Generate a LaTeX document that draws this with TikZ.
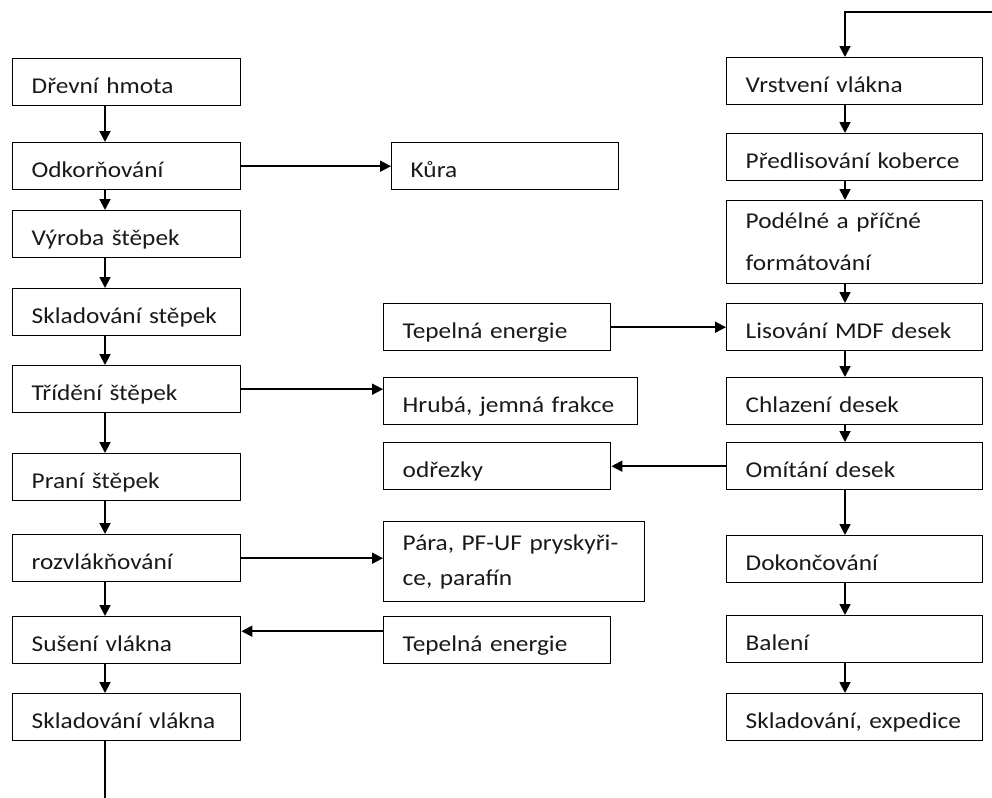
\documentclass[tikz,border=0pt]{standalone}
\usepackage{fontspec}
\setmainfont{Carlito}[FakeStretch=1.12]
\usetikzlibrary{arrows.meta,positioning}
\tikzset{
  box/.style={draw, line width=0.7pt, anchor=north west, align=left, inner xsep=9.5pt, inner ysep=0pt, minimum height=23.5pt, text=black!90},
  onebox/.style={box, text height=11pt, text depth=0pt},
  lbox/.style={onebox, text width=95pt},
  rbox/.style={onebox, text width=109pt},
  mbox/.style={onebox, text width=94.5pt},
  edge/.style={-{Triangle[length=5.5pt,width=5.5pt]}, line width=0.9pt}
}

\begin{document}
\begin{tikzpicture}[x=0.5pt, y=-0.5pt, font=\fontsize{11.3}{21}\selectfont]
\useasboundingbox (0,0) rectangle (992,798);
\coordinate (lx) at (105,0);
\coordinate (rx) at (845,0);
\coordinate (topin) at (992,12);
\coordinate (botout) at (105,798);

% left column
\node[lbox] (hmota) at (12,58) {Dřevní hmota};
\node[lbox] (odkor) at (12,142) {Odkorňování};
\node[lbox] (vyroba) at (12,210) {Výroba štěpek};
\node[lbox] (sklstep) at (12,288) {Skladování stěpek};
\node[lbox] (trideni) at (12,365) {Třídění štěpek};
\node[lbox] (prani) at (12,453) {Praní štěpek};
\node[lbox] (rozvl) at (12,534) {rozvlákňování};
\node[lbox] (suseni) at (12,616) {Sušení vlákna};
\node[lbox] (sklvl) at (12,693) {Skladování vlákna};

% middle column
\node[mbox] (kura) at (391,142) {Kůra};
\node[mbox] (tepla) at (383,303) {Tepelná energie};
\node[onebox, text width=108pt] (hruba) at (383,377) {Hrubá, jemná frakce};
\node[mbox] (odrezky) at (383,442) {odřezky};
\node[box, text width=111.5pt, minimum height=40pt, font=\fontsize{11.3}{17.5}\selectfont] (para) at (383,521) {Pára, PF-UF pryskyři-\\ce, parafín};
\node[mbox] (teplb) at (383,616) {Tepelná energie};

% right column
\node[rbox] (vrstveni) at (726,57) {Vrstvení vlákna};
\node[rbox] (predlis) at (726,133) {Předlisování koberce};
\node[box, text width=109pt, minimum height=41.5pt] (format) at (726,200) {Podélné a příčné\\formátování};
\node[rbox] (lisovani) at (726,303) {Lisování MDF desek};
\node[rbox] (chlazeni) at (726,377) {Chlazení desek};
\node[rbox] (omitani) at (726,442) {Omítání desek};
\node[rbox] (dokonc) at (726,535) {Dokončování};
\node[rbox] (baleni) at (726,615) {Balení};
\node[rbox] (expedice) at (726,693) {Skladování, expedice};

\draw[edge] (hmota.south -| lx) -- (odkor.north -| lx);
\draw[edge] (odkor.south -| lx) -- (vyroba.north -| lx);
\draw[edge] (vyroba.south -| lx) -- (sklstep.north -| lx);
\draw[edge] (sklstep.south -| lx) -- (trideni.north -| lx);
\draw[edge] (trideni.south -| lx) -- (prani.north -| lx);
\draw[edge] (prani.south -| lx) -- (rozvl.north -| lx);
\draw[edge] (rozvl.south -| lx) -- (suseni.north -| lx);
\draw[edge] (suseni.south -| lx) -- (sklvl.north -| lx);
\draw[line width=0.9pt] (sklvl.south -| lx) -- (botout);

\draw[edge] (odkor.east) -- (odkor.east -| kura.west);
\draw[edge] (trideni.east) -- (trideni.east -| hruba.west);
\draw[edge] (rozvl.east) -- (rozvl.east -| para.west);
\draw[edge] ([yshift=4.5pt]teplb.west) -- ([yshift=4.5pt]teplb.west -| suseni.east);
\draw[edge] (tepla.east) -- (tepla.east -| lisovani.west);
\draw[edge] (omitani.west) -- (omitani.west -| odrezky.east);

\draw[edge] (topin) -| (vrstveni.north -| rx);
\draw[edge] (vrstveni.south -| rx) -- (predlis.north -| rx);
\draw[edge] (predlis.south -| rx) -- (format.north -| rx);
\draw[edge] (format.south -| rx) -- (lisovani.north -| rx);
\draw[edge] (lisovani.south -| rx) -- (chlazeni.north -| rx);
\draw[edge] (chlazeni.south -| rx) -- (omitani.north -| rx);
\draw[edge] (omitani.south -| rx) -- (dokonc.north -| rx);
\draw[edge] (dokonc.south -| rx) -- (baleni.north -| rx);
\draw[edge] (baleni.south -| rx) -- (expedice.north -| rx);
\end{tikzpicture}
\end{document}
